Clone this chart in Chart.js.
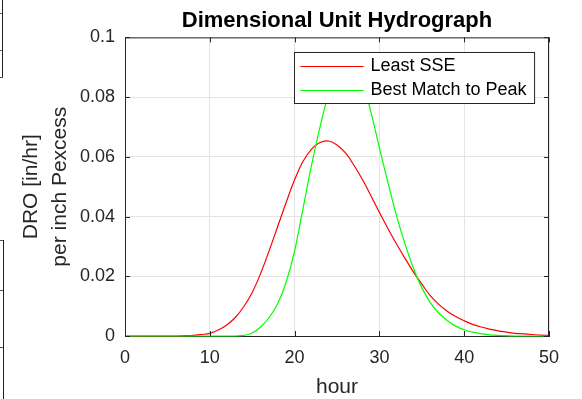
<!DOCTYPE html>
<html><head><meta charset="utf-8">
<script src="https://cdn.jsdelivr.net/npm/chart.js@4/dist/chart.umd.min.js"></script>
<style>
html,body{margin:0;padding:0;background:#fff;}
#wrap{position:relative;width:582px;height:399px;overflow:hidden;}
canvas{display:block;}
.edge{position:absolute;border-right:1px solid #222;}
.hl{position:absolute;height:0;border-top:1px solid #555;}
</style></head><body>
<div id="wrap">
<canvas id="c" width="582" height="399"></canvas>
<div class="edge" style="left:0;top:0;width:2px;height:78px"></div>
<div class="hl" style="left:0;top:13px;width:2px"></div>
<div class="hl" style="left:0;top:50px;width:2px"></div>
<div class="hl" style="left:0;top:77px;width:3px"></div>
<div class="edge" style="left:0;top:240px;width:3px;height:159px"></div>
<div class="hl" style="left:0;top:240px;width:3px"></div>
<div class="hl" style="left:0;top:290px;width:3px"></div>
<div class="hl" style="left:0;top:347px;width:3px"></div>
</div>
<script>
const hours = [0,1,2,3,4,5,6,7,8,9,10,11,12,13,14,15,16,17,18,19,20,21,22,23,24,25,26,27,28,29,30,31,32,33,34,35,36,37,38,39,40,41,42,43,44,45,46,47,48,49,50];
const leastSSE = [0,0,0,0,0,0,0,0.0001,0.0002,0.0005,0.0009,0.0020,0.0037,0.0062,0.0098,0.0146,0.0210,0.0286,0.0366,0.0447,0.0523,0.0585,0.0626,0.0648,0.0653,0.0640,0.0613,0.0572,0.0524,0.0470,0.0414,0.0360,0.0309,0.0261,0.0215,0.0174,0.0135,0.0106,0.0083,0.0065,0.0051,0.0039,0.0030,0.0023,0.0017,0.0013,0.0009,0.0007,0.0005,0.0003,0.0002];
const bestMatch = [0,0,0,0,0,0,0,0,0,0,0,0,0,0,0.0002,0.0010,0.0030,0.0062,0.0108,0.0180,0.0285,0.0428,0.0572,0.0700,0.0810,0.0885,0.0920,0.0910,0.0850,0.0750,0.0630,0.0515,0.0405,0.0310,0.0228,0.0162,0.0112,0.0077,0.0052,0.0033,0.0021,0.0013,0.0008,0.0004,0.0002,0.0001,0,0,0,0,0];
const seriesNames = ['Least SSE','Best Match to Peak'];
const xTickLabels = ['0','10','20','30','40','50'];
const yTickLabels = ['0','0.02','0.04','0.06','0.08','0.1'];
const titleText = 'Dimensional Unit Hydrograph';
const xTitle = 'hour';
const yTitle = ['DRO [in/hr]','per inch Pexcess'];

const FONT = "'Liberation Sans', Arial, Helvetica, sans-serif";
const AX = '#262626';
const GRID = '#e4e4e4';

const boxPlugin = {
  id: 'matlabBox',
  afterDatasetsDraw(chart) {
    const {ctx, chartArea: a, scales: {x, y}} = chart;
    ctx.save();
    ctx.strokeStyle = AX;
    ctx.lineWidth = 1;
    ctx.beginPath();
    ctx.moveTo(a.left + 0.5, a.top + 0.5);
    ctx.lineTo(a.right - 0.5, a.top + 0.5);
    ctx.lineTo(a.right - 0.5, a.bottom);
    ctx.stroke();
    const tl = 5;
    ctx.beginPath();
    x.ticks.forEach(t => {
      const px = Math.round(x.getPixelForValue(t.value)) + 0.5;
      ctx.moveTo(px, a.bottom); ctx.lineTo(px, a.bottom - tl);
      ctx.moveTo(px, a.top); ctx.lineTo(px, a.top + tl);
    });
    y.ticks.forEach(t => {
      const py = Math.round(y.getPixelForValue(t.value)) + 0.5;
      ctx.moveTo(a.left, py); ctx.lineTo(a.left + tl, py);
      ctx.moveTo(a.right, py); ctx.lineTo(a.right - tl, py);
    });
    ctx.stroke();

    // legend box (drawn over the data, as in the reference)
    ctx.font = '18px ' + FONT;
    const ds = chart.data.datasets;
    let tw = 0;
    ds.forEach(d => { tw = Math.max(tw, ctx.measureText(d.label).width); });
    const lineStart = 6, lineLen = 63, textGap = 7, rowH = 24;
    const w = lineStart + lineLen + textGap + tw + 8;
    const h = 51;
    const bx = Math.round(a.right - 15 - w) + 0.5;
    const by = Math.round(a.top + 15) + 0.5;
    ctx.fillStyle = '#fff';
    ctx.fillRect(bx, by, w, h);
    ctx.strokeStyle = AX;
    ctx.strokeRect(bx, by, w, h);
    [0, 1].forEach((i, r) => {
      const d = ds[i];
      const cy = Math.round(by + 13 + r * rowH) + 0.5;
      ctx.strokeStyle = d.borderColor;
      ctx.lineWidth = 1.2;
      ctx.beginPath();
      ctx.moveTo(bx + lineStart, cy);
      ctx.lineTo(bx + lineStart + lineLen, cy);
      ctx.stroke();
      ctx.fillStyle = '#000';
      ctx.textBaseline = 'middle';
      ctx.textAlign = 'left';
      ctx.fillText(d.label, bx + lineStart + lineLen + textGap, cy);
    });
    ctx.restore();
  }
};

new Chart(document.getElementById('c'), {
  type: 'line',
  data: {
    datasets: [
      {
        label: seriesNames[0],
        data: hours.map((h, i) => ({x: h, y: leastSSE[i]})),
        borderColor: '#ff0000',
        borderWidth: 1.2,
        pointRadius: 0,
        fill: false,
        tension: 0.4,
        clip: 3,
        order: 1
      },
      {
        label: seriesNames[1],
        data: hours.map((h, i) => ({x: h, y: bestMatch[i]})),
        borderColor: '#00ff00',
        borderWidth: 1.2,
        pointRadius: 0,
        fill: false,
        tension: 0.4,
        clip: 3,
        order: 0
      }
    ]
  },
  options: {
    responsive: false,
    animation: false,
    events: [],
    layout: {padding: {left: 0, right: 33, top: 0, bottom: 0}},
    plugins: {
      legend: {display: false},
      tooltip: {enabled: false},
      title: {
        display: true,
        fullSize: false,
        text: titleText,
        color: '#000',
        font: {family: FONT, size: 22, weight: 'bold', lineHeight: 1.2},
        padding: {top: 8, bottom: 3}
      }
    },
    scales: {
      x: {
        type: 'linear',
        min: 0, max: 50,
        ticks: {
          stepSize: 10,
          color: AX,
          font: {family: FONT, size: 18},
          padding: 11,
          maxRotation: 0,
          callback: v => xTickLabels[Math.round(v / 10)]
        },
        grid: {color: GRID, drawTicks: false, lineWidth: 1},
        border: {color: AX, width: 1},
        title: {
          display: true, text: xTitle, color: AX,
          font: {family: FONT, size: 21, lineHeight: 1.1},
          padding: {top: 0, bottom: 0}
        },
        afterFit: s => { s.height = 63; }
      },
      y: {
        min: 0, max: 0.1,
        ticks: {
          stepSize: 0.02,
          color: AX,
          font: {family: FONT, size: 18},
          padding: 10,
          callback: v => yTickLabels[Math.round(v / 0.02)]
        },
        grid: {color: GRID, drawTicks: false, lineWidth: 1},
        border: {color: AX, width: 1},
        title: {
          display: true, text: yTitle, color: AX,
          font: {family: FONT, size: 21, lineHeight: 1.38},
          padding: {top: 17, bottom: 0}
        },
        afterFit: s => { s.width = 125; }
      }
    }
  },
  plugins: [boxPlugin]
});
</script>
</body></html>
